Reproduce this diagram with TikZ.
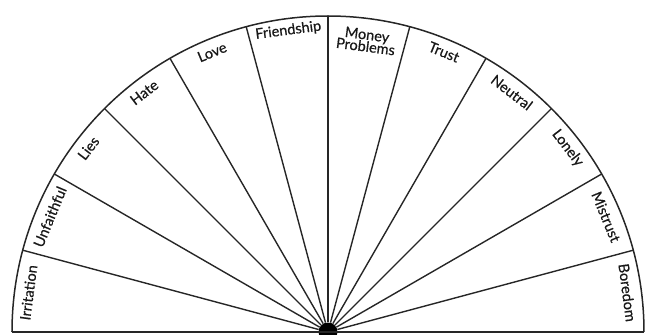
\documentclass[tikz,border=0pt]{standalone}
\usepackage{fontspec}
\setmainfont{Lato}[FakeBold=0.5]
\usepackage{tikz}

\begin{document}
\begin{tikzpicture}[
    x=1pt, y=1pt,
    every node/.style={font=\fontsize{14.5}{15}\selectfont},
    rim/.style={draw=black!85, line width=1.5pt},
    spoke/.style={draw=black!85, line width=1.4pt},
    hub/.style={circle, fill=black, minimum size=19pt, inner sep=0pt},
    lbl/.style={inner sep=1pt, text=black!90},
  ]
  \useasboundingbox (-328,-3) rectangle (318,332);
  \coordinate (r0) at (0:316);
  \coordinate (r1) at (15:316);
  \coordinate (r2) at (30:316);
  \coordinate (r3) at (45:316);
  \coordinate (r4) at (60:316);
  \coordinate (r5) at (75:316);
  \coordinate (r6) at (90:316);
  \coordinate (r7) at (105:316);
  \coordinate (r8) at (120:316);
  \coordinate (r9) at (135:316);
  \coordinate (r10) at (150:316);
  \coordinate (r11) at (165:316);
  \coordinate (r12) at (180:316);
  \node[hub] (hub) at (0,0) {};
  \draw[rim] (r0) arc[start angle=0, end angle=180, radius=316];
  \draw[rim] (r12) -- (r0);
  \draw[spoke] (hub) -- (r1);
  \draw[spoke] (hub) -- (r2);
  \draw[spoke] (hub) -- (r3);
  \draw[spoke] (hub) -- (r4);
  \draw[spoke] (hub) -- (r5);
  \draw[spoke] (hub) -- (r6);
  \draw[spoke] (hub) -- (r7);
  \draw[spoke] (hub) -- (r8);
  \draw[spoke] (hub) -- (r9);
  \draw[spoke] (hub) -- (r10);
  \draw[spoke] (hub) -- (r11);
  \node[lbl, rotate=82.5] (irritation) at (172.5:302) {Irritation};
  \node[lbl, rotate=67.5] (unfaithful) at (157.5:301) {Unfaithful};
  \node[lbl, rotate=52.5] (lies) at (142.5:302) {Lies};
  \node[lbl, rotate=37.5] (hate) at (127.5:302) {Hate};
  \node[lbl, rotate=22.5] (love) at (112.5:303) {Love};
  \node[lbl, rotate=7.5] (friendship) at (97.5:304) {Friendship};
  \node[lbl, rotate=-7.5, align=center] (money) at (82.5:294) {Money\\[-3pt]Problems};
  \node[lbl, rotate=-22.5] (trust) at (67.5:303) {Trust};
  \node[lbl, rotate=-37.5] (neutral) at (52.5:302) {Neutral};
  \node[lbl, rotate=-52.5] (lonely) at (37.5:302) {Lonely};
  \node[lbl, rotate=-67.5] (mistrust) at (22.5:301) {Mistrust};
  \node[lbl, rotate=-82.5] (boredom) at (7.5:302) {Boredom};
\end{tikzpicture}
\end{document}
